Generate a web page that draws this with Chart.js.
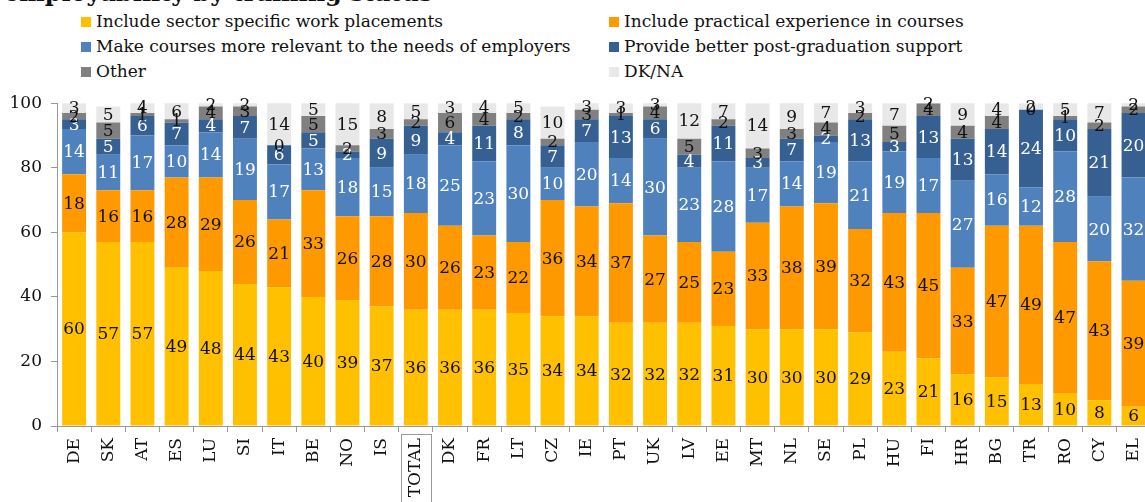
<!DOCTYPE html>
<html>
<head>
<meta charset="utf-8">
<script src="https://cdn.jsdelivr.net/npm/chart.js@4"></script>
<style>
    body { margin: 0; width: 1145px; height: 502px; overflow: hidden; background: #fff; position: relative; font-family: 'DejaVu Serif', serif; }
    #title { position: absolute; left: 4px; top: -22px; font-size: 24px; font-weight: bold; color: #111; white-space: nowrap; }
    #legend { position: absolute; left: 81px; top: 9px; }
    .legend-item { position: absolute; white-space: nowrap; font-size: 17px; color: #111; line-height: 25px; }
    .legend-box { display: inline-block; width: 10px; height: 10px; margin-right: 5px; vertical-align: 0px; }
    #chart-wrap { position: absolute; left: 0; top: 84px; width: 1160px; height: 418px; }
</style>
</head>
<body>
<div id="title">employability by training status</div>
<div id="legend"></div>
<div id="chart-wrap"><canvas id="chart"></canvas></div>
<script>
// Categories and series (percent)
const countries = ['DE', 'SK', 'AT', 'ES', 'LU', 'SI', 'IT', 'BE', 'NO', 'IS', 'TOTAL', 'DK', 'FR', 'LT', 'CZ', 'IE',
    'PT', 'UK', 'LV', 'EE', 'MT', 'NL', 'SE', 'PL', 'HU', 'FI', 'HR', 'BG', 'TR', 'RO', 'CY', 'EL'];

const sectorPlacements = [60, 57, 57, 49, 48, 44, 43, 40, 39, 37, 36, 36, 36, 35, 34, 34, 32, 32, 32, 31, 30, 30, 30, 29, 23, 21, 16, 15, 13, 10, 8, 6];
const practicalExperience = [18, 16, 16, 28, 29, 26, 21, 33, 26, 28, 30, 26, 23, 22, 36, 34, 37, 27, 25, 23, 33, 38, 39, 32, 43, 45, 33, 47, 49, 47, 43, 39];
const moreRelevant = [14, 11, 17, 10, 14, 19, 17, 13, 18, 15, 18, 25, 23, 30, 10, 20, 14, 30, 23, 28, 17, 14, 19, 21, 19, 17, 27, 16, 12, 28, 20, 32];
const postGradSupport = [3, 5, 6, 7, 4, 7, 6, 5, 2, 9, 9, 4, 11, 8, 7, 7, 13, 6, 4, 11, 3, 7, 2, 13, 3, 13, 13, 14, 24, 10, 21, 20];
const other = [2, 5, 1, 1, 4, 3, 0, 5, 2, 3, 2, 6, 4, 2, 2, 3, 1, 4, 5, 2, 3, 3, 4, 2, 5, 4, 4, 4, 0, 1, 2, 2];
const dkNa = [3, 5, 4, 6, 2, 2, 14, 5, 15, 8, 5, 3, 4, 5, 10, 3, 3, 3, 12, 7, 14, 9, 7, 3, 7, 2, 9, 4, 2, 5, 7, 2];

const yTicks = [0, 20, 40, 60, 80, 100];

const series = [
    { label: 'Include sector specific work placements', data: sectorPlacements, color: '#FFC000', text: '#111' },
    { label: 'Include practical experience in courses', data: practicalExperience, color: '#FF9900', text: '#111' },
    { label: 'Make courses more relevant to the needs of employers', data: moreRelevant, color: '#4F81BD', text: '#fff' },
    { label: 'Provide better post-graduation support', data: postGradSupport, color: '#376092', text: '#fff' },
    { label: 'Other', data: other, color: '#808080', text: '#111' },
    { label: 'DK/NA', data: dkNa, color: '#E8E8E8', text: '#111' }
];

const FONT = '"DejaVu Serif", serif';

function renderLegend() {
    const legend = document.getElementById('legend');
    legend.innerHTML = series.map((s, i) => {
        const col = i % 2;
        const row = Math.floor(i / 2);
        return `<div class="legend-item" style="left:${col * 528}px; top:${row * 25}px">
            <span class="legend-box" style="background:${s.color}"></span>${s.label}</div>`;
    }).join('');
}

// Value labels centred in each segment
const segmentLabels = {
    id: 'segmentLabels',
    afterDatasetsDraw(chart) {
        const ctx = chart.ctx;
        const area = chart.chartArea;
        ctx.save();
        ctx.font = `17px ${FONT}`;
        ctx.textAlign = 'center';
        ctx.textBaseline = 'middle';
        chart.data.datasets.forEach((ds, di) => {
            const meta = chart.getDatasetMeta(di);
            meta.data.forEach((bar, i) => {
                const top = Math.max(bar.y, area.top);
                const mid = (top + bar.base) / 2;
                ctx.fillStyle = series[di].text;
                ctx.fillText(String(ds.data[i]), bar.x, mid + 1);
            });
        });
        ctx.restore();
    }
};

// Box round the TOTAL label
const totalBox = {
    id: 'totalBox',
    afterDraw(chart) {
        const x = chart.scales.x;
        const cx = x.getPixelForValue(countries.indexOf('TOTAL'));
        const ctx = chart.ctx;
        ctx.save();
        ctx.strokeStyle = '#9a9a9a';
        ctx.lineWidth = 1;
        ctx.strokeRect(Math.round(cx - 15) + 0.5, x.top + 8.5, 30, 90);
        ctx.restore();
    }
};

function renderChart() {
    const ctx = document.getElementById('chart');
    new Chart(ctx, {
        type: 'bar',
        data: {
            labels: countries,
            datasets: series.map(s => ({
                label: s.label,
                data: s.data,
                backgroundColor: s.color,
                borderWidth: 0,
                barPercentage: 0.7,
                categoryPercentage: 1.0
            }))
        },
        options: {
            responsive: true,
            maintainAspectRatio: false,
            animation: false,
            layout: { padding: { top: 4, right: 4, left: 0, bottom: 0 } },
            plugins: {
                legend: { display: false },
                tooltip: { enabled: false }
            },
            scales: {
                x: {
                    stacked: true,
                    afterFit: (scale) => { scale.height = 76; },
                    grid: { drawOnChartArea: false, drawTicks: true, tickLength: 6, color: '#999', offset: true },
                    border: { color: '#999' },
                    ticks: {
                        color: '#111',
                        font: { family: FONT, size: 17 },
                        maxRotation: 90,
                        minRotation: 90,
                        padding: 6,
                        autoSkip: false
                    }
                },
                y: {
                    stacked: true,
                    min: 0,
                    max: 100,
                    afterFit: (scale) => { scale.width = 57; },
                    afterBuildTicks: (scale) => { scale.ticks = yTicks.map(v => ({ value: v })); },
                    grid: { drawOnChartArea: false, drawTicks: true, tickLength: 6, color: '#999' },
                    border: { color: '#999' },
                    ticks: {
                        color: '#111',
                        font: { family: FONT, size: 17 },
                        padding: 9
                    }
                }
            }
        },
        plugins: [segmentLabels, totalBox]
    });
}

renderLegend();
document.fonts.load(`17px ${FONT}`).then(renderChart, renderChart);
</script>
</body>
</html>
